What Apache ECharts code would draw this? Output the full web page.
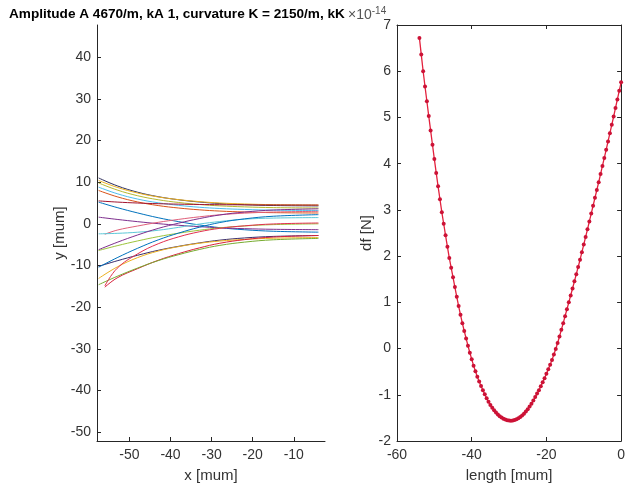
<!DOCTYPE html>
<html><head><meta charset="utf-8">
<script src="https://cdn.jsdelivr.net/npm/echarts@6/dist/echarts.min.js"></script>
<style>html,body{margin:0;padding:0;background:#fff}#c{width:628px;height:493px}</style>
</head><body><div id="c"></div>
<script>
// ---- right panel data: df [N] (x1e-14) vs length [mum]
const lengthUm = [-54,-53.5,-53,-52.5,-52,-51.5,-51,-50.5,-50,-49.5,-49,-48.5,-48,-47.5,-47,-46.5,-46,-45.5,-45,-44.5,-44,-43.5,-43,-42.5,-42,-41.5,-41,-40.5,-40,-39.5,-39,-38.5,-38,-37.5,-37,-36.5,-36,-35.5,-35,-34.5,-34,-33.5,-33,-32.5,-32,-31.5,-31,-30.5,-30,-29.5,-29,-28.5,-28,-27.5,-27,-26.5,-26,-25.5,-25,-24.5,-24,-23.5,-23,-22.5,-22,-21.5,-21,-20.5,-20,-19.5,-19,-18.5,-18,-17.5,-17,-16.5,-16,-15.5,-15,-14.5,-14,-13.5,-13,-12.5,-12,-11.5,-11,-10.5,-10,-9.5,-9,-8.5,-8,-7.5,-7,-6.5,-6,-5.5,-5,-4.5,-4,-3.5,-3,-2.5,-2,-1.5,-1,-0.5,0];
const dfVals = [6.72,6.36,6.00,5.67,5.35,5.03,4.72,4.41,4.10,3.80,3.51,3.23,2.95,2.70,2.45,2.20,1.96,1.75,1.54,1.33,1.12,0.92,0.73,0.55,0.38,0.22,0.06,-0.09,-0.23,-0.37,-0.49,-0.61,-0.715,-0.81,-0.90,-0.99,-1.075,-1.15,-1.219,-1.279,-1.333,-1.382,-1.425,-1.462,-1.493,-1.518,-1.537,-1.551,-1.558,-1.56,-1.556,-1.546,-1.53,-1.508,-1.481,-1.448,-1.408,-1.363,-1.312,-1.256,-1.193,-1.125,-1.05,-0.975,-0.90,-0.815,-0.73,-0.64,-0.545,-0.45,-0.35,-0.245,-0.13,-0.01,0.12,0.26,0.405,0.55,0.70,0.85,1.0,1.15,1.30,1.455,1.61,1.765,1.92,2.085,2.25,2.415,2.58,2.75,2.92,3.09,3.26,3.43,3.60,3.775,3.95,4.125,4.30,4.48,4.66,4.84,5.02,5.205,5.39,5.575,5.76];

// ---- left panel data: trajectories y [mum] vs x [mum]
const curveX     = [-57.5,-53,-48,-43,-38,-33,-28,-22,-15,-4];
const curveXLate = [-56,-53,-48,-43,-38,-33,-28,-22,-15,-4];
const c01 = [11.0,9.12,7.58,6.51,5.77,5.24,4.87,4.60,4.40,4.3];
const c02 = [10.4,8.75,7.39,6.45,5.80,5.33,5.0,4.77,4.59,4.5];
const c03 = [9.8,8.12,6.74,5.78,5.12,4.64,4.31,4.07,3.89,3.8];
const c04 = [8.8,7.23,5.94,5.05,4.43,3.98,3.68,3.45,3.28,3.2];
const c05 = [8.0,6.49,5.25,4.38,3.79,3.36,3.06,2.84,2.68,2.6];
const c06 = [5.5,5.22,4.99,4.83,4.72,4.64,4.59,4.55,4.52,4.5];
const c07 = [5.2,3.90,2.61,1.46,0.52,-0.27,-0.92,-1.42,-1.78,-2.0];
const c08 = [1.6,1.06,0.52,0.04,-0.35,-0.68,-0.95,-1.16,-1.31,-1.4];
const c09 = [-2.5,-1.51,-0.52,0.36,1.07,1.68,2.17,2.56,2.83,3.0];
const c10 = [-2.4,-2.28,-2.01,-1.54,-0.84,-0.06,0.56,1.11,1.38,1.5];
const c11 = [-6.4,-5.25,-4.10,-3.07,-2.24,-1.54,-0.96,-0.51,-0.19,0];
const c12 = [-10.2,-8.87,-7.54,-6.35,-5.39,-4.58,-3.91,-3.39,-3.02,-2.8];
const c13 = [-13.1,-10.36,-8.10,-6.53,-5.46,-4.67,-4.13,-3.74,-3.45,-3.3];
const c14 = [-15.2,-12.97,-10.74,-8.75,-7.14,-5.78,-4.66,-3.79,-3.17,-2.8];
const c15 = [-14.6,-12.6,-10.6,-8.83,-7.39,-6.16,-5.17,-4.39,-3.83,-3.5];
const c16 = [-14.9,-10.67,-7.20,-4.78,-3.12,-1.91,-1.08,-0.48,-0.03,0.2];
const c17 = [-6.2,-4.44,-2.67,-1.10,0.17,1.25,2.13,2.82,3.31,3.6];
const c18 = [-10.4,-8.13,-5.86,-3.85,-2.21,-0.82,0.31,1.19,1.82,2.2];
const curveList  = [c01,c02,c03,c04,c05,c06,c07,c08,c09,c10,c11,c12,c13,c14,c15,c16,c17,c18];
const curveLate  = [false,false,false,false,false,false,false,false,true,false,false,false,false,true,false,true,false,false];
const curveColors = ['#2e2e5c','#EDB120','#b5b830','#4DBEEE','#D95319','#A2142F','#0072BD','#7E2F8E','#e0607a','#5cc8d8','#9cc43c','#3a2c6a','#EDB120','#d8203a','#77AC30','#e23050','#7E2F8E','#0072BD'];

const leftYTicks = [-50,-40,-30,-20,-10,0,10,20,30,40];
const leftXTicks = [-50,-40,-30,-20,-10];

const FONT = 'Liberation Sans, Arial, Helvetica, sans-serif';
const AX = '#262626';
const lbl = {color: '#333', fontSize: 14, fontFamily: FONT};
const nameStyle = {fontFamily: FONT, fontSize: 15, color: '#333'};

const chart = echarts.init(document.getElementById('c'), null, {renderer: 'canvas'});

const series = curveList.map((ys, i) => ({
  type: 'line', xAxisIndex: 0, yAxisIndex: 0, smooth: 0.4, showSymbol: false,
  data: ys.map((y, k) => [(curveLate[i] ? curveXLate : curveX)[k], y]),
  lineStyle: {width: 1, color: curveColors[i]}, itemStyle: {color: curveColors[i]},
  silent: true, z: 2
}));
series.push({
  type: 'line', xAxisIndex: 1, yAxisIndex: 1,
  data: lengthUm.map((x, k) => [x, dfVals[k]]),
  symbol: 'circle', symbolSize: 4, showSymbol: true,
  lineStyle: {width: 1.3, color: '#e3213d'}, itemStyle: {color: '#cc1236'}, z: 3
});

chart.setOption({
  animation: false,
  backgroundColor: '#fff',
  title: [
    {text: 'Amplitude A 4670/m, kA 1, curvature K = 2150/m, kK', left: 4, top: 2,
     textStyle: {fontFamily: FONT, fontSize: 13.6, fontWeight: 'bold', color: '#000'}},
    {text: '{a|\u00d710}{b|-14}', left: 343, top: 1,
     textStyle: {rich: {a: {fontFamily: FONT, fontSize: 14, fontWeight: 'normal', color: '#555', verticalAlign: 'bottom'},
                        b: {fontFamily: FONT, fontSize: 10, fontWeight: 'normal', color: '#555', verticalAlign: 'top', padding: [0,0,6,0]}}}}
  ],
  grid: [
    {left: 97, top: 25, width: 228, height: 416, show: false},
    {left: 397, top: 25, width: 230, height: 416, show: false}
  ],
  xAxis: [
    {gridIndex: 0, type: 'value', min: -57.9, max: -2.4,
     name: 'x [mum]', nameLocation: 'middle', nameGap: 27, nameTextStyle: nameStyle,
     axisLine: {show: true, onZero: false, lineStyle: {color: AX}},
     axisTick: {show: true, inside: true, length: 4, customValues: leftXTicks, lineStyle: {color: AX}},
     axisLabel: Object.assign({customValues: leftXTicks, margin: 7}, lbl),
     splitLine: {show: false}},
    {gridIndex: 1, type: 'value', min: -60, max: 0, interval: 20,
     name: 'length [mum]', nameLocation: 'middle', nameGap: 27, nameTextStyle: nameStyle,
     axisLine: {show: true, onZero: false, lineStyle: {color: AX}},
     axisTick: {show: true, inside: true, length: 4, lineStyle: {color: AX}},
     axisLabel: Object.assign({margin: 7}, lbl),
     splitLine: {show: false}},
    {gridIndex: 1, type: 'value', min: -60, max: 0, interval: 20, position: 'top',
     axisLine: {show: true, onZero: false, lineStyle: {color: AX}},
     axisTick: {show: true, inside: true, length: 4, lineStyle: {color: AX}},
     axisLabel: {show: false}, splitLine: {show: false}}
  ],
  yAxis: [
    {gridIndex: 0, type: 'value', min: -52.1, max: 47.7,
     name: 'y [mum]', nameLocation: 'middle', nameGap: 28, nameTextStyle: nameStyle,
     axisLine: {show: true, onZero: false, lineStyle: {color: AX}},
     axisTick: {show: true, inside: true, length: 4, customValues: leftYTicks, lineStyle: {color: AX}},
     axisLabel: Object.assign({customValues: leftYTicks, margin: 6}, lbl),
     splitLine: {show: false}},
    {gridIndex: 1, type: 'value', min: -2, max: 7, interval: 1,
     name: 'df [N]', nameLocation: 'middle', nameGap: 20, nameTextStyle: nameStyle,
     axisLine: {show: true, onZero: false, lineStyle: {color: AX}},
     axisTick: {show: true, inside: true, length: 4, lineStyle: {color: AX}},
     axisLabel: Object.assign({margin: 6}, lbl),
     splitLine: {show: false}},
    {gridIndex: 1, type: 'value', min: -2, max: 7, interval: 1, position: 'right',
     axisLine: {show: true, onZero: false, lineStyle: {color: AX}},
     axisTick: {show: true, inside: true, length: 4, lineStyle: {color: AX}},
     axisLabel: {show: false}, splitLine: {show: false}}
  ],
  series: series
});
</script>
</body></html>
